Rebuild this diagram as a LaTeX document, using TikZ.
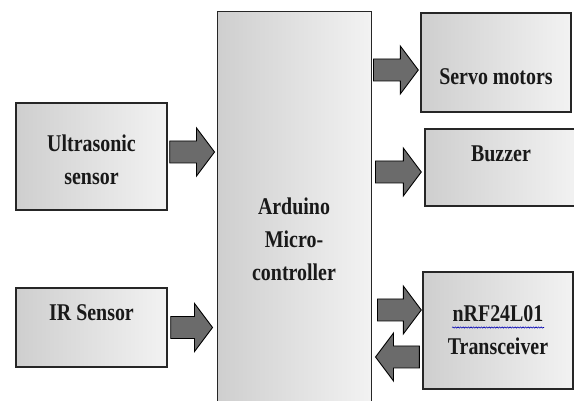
\documentclass[tikz,border=0pt]{standalone}
\usepackage{fontspec}
\setmainfont{Liberation Serif}[FakeStretch=0.83]
\usetikzlibrary{calc,decorations.pathmorphing}

% fat arrow from #1 to #2 (horizontal)
\newcommand\blockarrow[2]{%
  \coordinate (ba-s) at (#1);
  \coordinate (ba-e) at (#2);
  \coordinate (ba-h) at ($(ba-e)!18pt!(ba-s)$);
  \draw[barrow] ($(ba-s)+(0,11)$) -- ($(ba-h)+(0,11)$) -- ($(ba-h)+(0,24)$)
    -- (ba-e) -- ($(ba-h)+(0,-24)$) -- ($(ba-h)+(0,-11)$) -- ($(ba-s)+(0,-11)$) -- cycle;}

\begin{document}
\begin{tikzpicture}[x=1pt,y=-1pt]

                \tikzset{block/.style = {shape=rectangle,draw=black!85,line width=1.4pt,
                    left color=gray!38,right color=gray!10,inner sep=0pt}}
                \tikzset{lbl/.style = {align=center,text=black!90,
                    font=\bfseries\fontsize{24}{33}\selectfont}}
                \tikzset{barrow/.style = {fill=black!58,draw=black,line width=0.9pt,line join=miter}}
                \tikzset{spell/.style = {draw=blue!70!black,line width=0.6pt,decorate,
                    decoration={snake,amplitude=0.6pt,segment length=2.6pt}}}

                \useasboundingbox[fill=white] (0,0) rectangle (574,401);

                \node[block,minimum width=151pt,minimum height=107pt,
                    label={[lbl,yshift=-3pt]center:Ultrasonic\\sensor}] (us) at (91.5,156.5) {};
                \node[block,minimum width=151pt,minimum height=79pt,
                    label={[lbl,yshift=15pt]center:IR Sensor}] (ir) at (91.5,327.5) {};
                \node[block,line width=1pt,minimum width=154pt,minimum height=392pt,
                    label={[lbl,yshift=-31pt]center:Arduino\\Micro-\\controller}] (ard) at (294,208) {};
                \node[block,minimum width=150pt,minimum height=99pt,
                    label={[lbl,yshift=-14pt]center:Servo motors}] (servo) at (496,62.5) {};
                \node[block,minimum width=152pt,minimum height=77pt,
                    label={[lbl,yshift=13.5pt]center:Buzzer}] (buzz) at (501,167.5) {};
                \node[block,minimum width=150pt,minimum height=117pt,
                    label={[lbl]center:nRF24L01\\Transceiver}] (nrf) at (498,330.5) {};

                \draw[spell] ($(nrf.center)+(-46,-3)$) -- ($(nrf.center)+(46,-3)$);

                \blockarrow{$(us.east)+(2,-4.5)$}{$(ard.west|-us.east)+(-2,-4.5)$}
                \blockarrow{$(ir.east)+(3,0)$}{$(ard.west|-ir.east)+(-4,0)$}
                \blockarrow{$(ard.east|-servo.west)+(2,7.5)$}{$(servo.west)+(-2,7.5)$}
                \blockarrow{$(ard.east|-buzz.west)+(4,4.5)$}{$(buzz.west)+(-3,4.5)$}
                \blockarrow{$(ard.east|-nrf.west)+(6,-20.5)$}{$(nrf.west)+(-1,-20.5)$}
                \blockarrow{$(nrf.west)+(-3,26.5)$}{$(ard.east|-nrf.west)+(4,26.5)$}

            \end{tikzpicture}
\end{document}
